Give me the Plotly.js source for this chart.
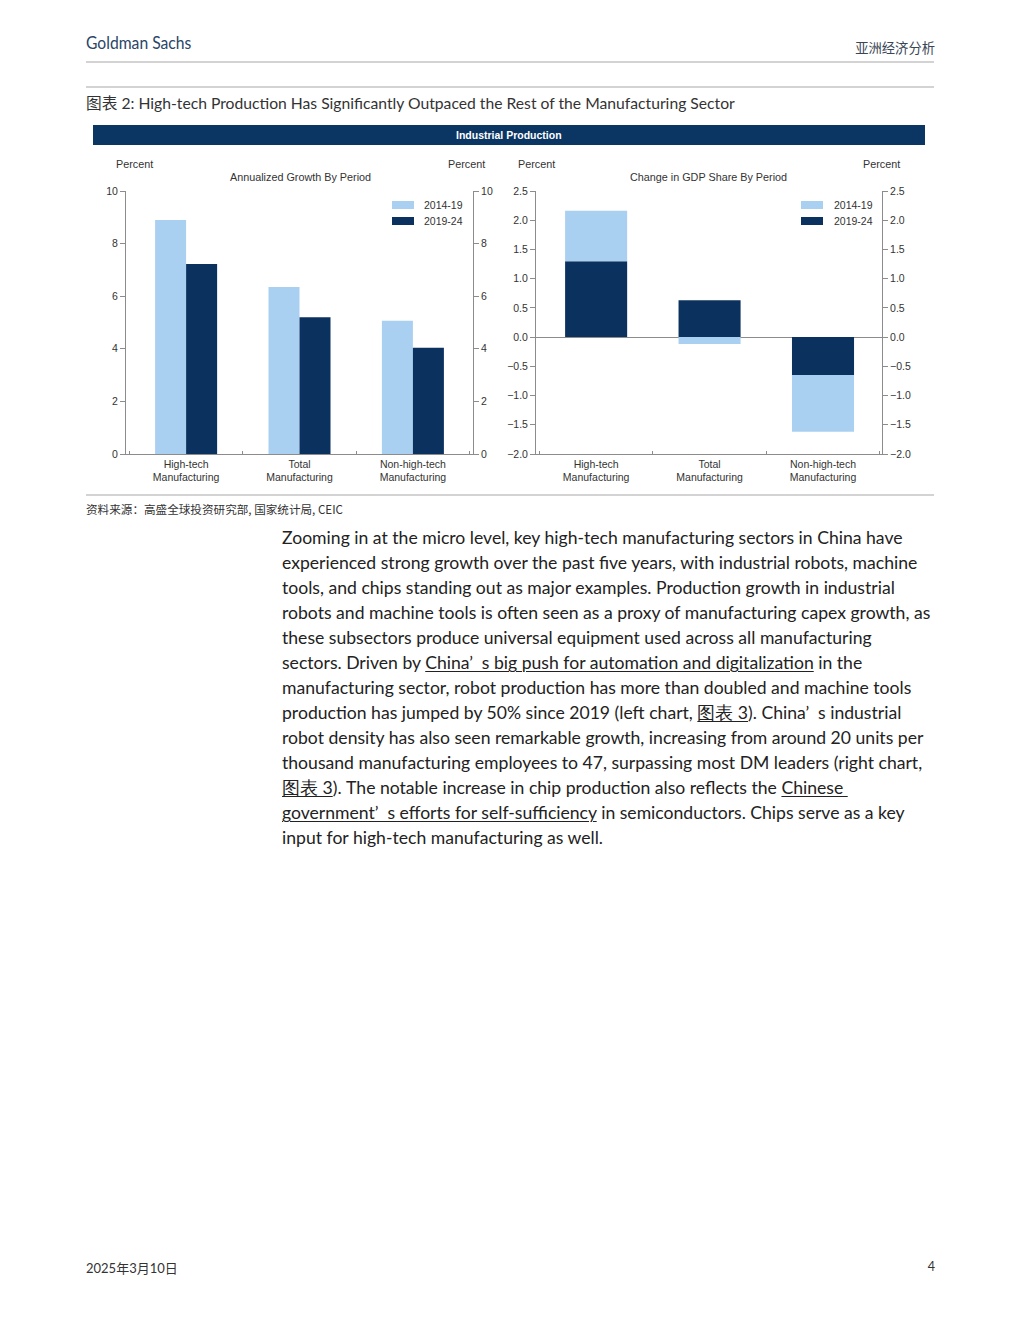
<!DOCTYPE html>
<html>
<head>
<meta charset="utf-8">
<script src="https://cdn.plot.ly/plotly-3.0.1.min.js"></script>
<style>
  html, body { margin:0; padding:0; background:#fff; }
  #page { position:relative; width:1018px; height:1318px; overflow:hidden; }
  #chart { position:absolute; left:0; top:0; width:1018px; height:1318px; }
  .t { position:absolute; white-space:nowrap; z-index:5; }
  .para { font-family:'Lato','Noto Sans',sans-serif; font-size:17.6px; color:#222; line-height:25px; }
  .para u { text-decoration:underline; text-decoration-thickness:1px; text-underline-offset:2px; }
</style>
</head>
<body>
<div id="page">
  <div id="chart"></div>
  <div class="t" style="left:86px; top:33px; font-family:'Lato',sans-serif; font-size:16.5px; line-height:20px; color:#2a4566; transform:scaleX(0.95); transform-origin:left center;">Goldman Sachs</div>
  <div class="t" style="right:83px; top:39px; font-family:'Noto Sans CJK SC',sans-serif; font-size:13.3px; line-height:18px; color:#3a4656;">亚洲经济分析</div>
  <div class="t" style="left:86px; top:93px; font-family:'Lato','Noto Sans CJK SC',sans-serif; font-size:15.7px; line-height:20px; color:#333;">图表 2: High-tech Production Has Significantly Outpaced the Rest of the Manufacturing Sector</div>
  <div class="t" style="left:86px; top:502px; font-family:'Noto Sans CJK SC',sans-serif; font-size:11.6px; line-height:14px; color:#333;">资料来源：高盛全球投资研究部, 国家统计局, CEIC</div>
  <div class="t para" style="left:282px; top:525px;">
    <div>Zooming in at the micro level, key high-tech manufacturing sectors in China have</div>
    <div>experienced strong growth over the past five years, with industrial robots, machine</div>
    <div>tools, and chips standing out as major examples. Production growth in industrial</div>
    <div>robots and machine tools is often seen as a proxy of manufacturing capex growth, as</div>
    <div>these subsectors produce universal equipment used across all manufacturing</div>
    <div>sectors. Driven by <u>China’&ensp;s big push for automation and digitalization</u> in the</div>
    <div>manufacturing sector, robot production has more than doubled and machine tools</div>
    <div>production has jumped by 50% since 2019 (left chart, <u>图表 3</u>). China’&ensp;s industrial</div>
    <div>robot density has also seen remarkable growth, increasing from around 20 units per</div>
    <div>thousand manufacturing employees to 47, surpassing most DM leaders (right chart,</div>
    <div><u>图表 3</u>). The notable increase in chip production also reflects the <u>Chinese&nbsp;</u></div>
    <div><u>government’&ensp;s efforts for self-sufficiency</u> in semiconductors. Chips serve as a key</div>
    <div>input for high-tech manufacturing as well.</div>
  </div>
  <div class="t" style="left:86px; top:1260px; font-family:'Lato','Noto Sans CJK SC',sans-serif; font-size:13px; line-height:16px; color:#333;">2025年3月10日</div>
  <div class="t" style="right:83px; top:1259px; font-family:'Lato',sans-serif; font-size:12.5px; line-height:16px; color:#333;">4</div>
</div>
<script>
// ---- data ----
const categories = ['High-tech<br>Manufacturing', 'Total<br>Manufacturing', 'Non-high-tech<br>Manufacturing'];
const periods = ['2014-19', '2019-24'];
const growth_2014_19 = [8.9, 6.35, 5.07];
const growth_2019_24 = [7.22, 5.2, 4.04];
const gdpShare_2014_19 = [0.86, -0.12, -0.97];
const gdpShare_2019_24 = [1.30, 0.63, -0.65];
const growthTicks = [0, 2, 4, 6, 8, 10];
const shareTicks = [-2.0, -1.5, -1.0, -0.5, 0.0, 0.5, 1.0, 1.5, 2.0, 2.5];
const chartTitle = 'Industrial Production';
const leftSubtitle = 'Annualized Growth By Period';
const rightSubtitle = 'Change in GDP Share By Period';
const unitLabel = 'Percent';

// ---- styling ----
const W = 1018, H = 1318;
const fx = x => x / W, fy = y => 1 - y / H;
const LIGHT = '#a9d0f1', DARK = '#0b325e', NAVY = '#0b3563', AX = '#8c8c8c';
const FONT = 'Liberation Sans, Arial, sans-serif';
const colors = [LIGHT, DARK];

const traces = [
  {type:'bar', x:categories, y:growth_2014_19, name:periods[0], marker:{color:LIGHT}, xaxis:'x', yaxis:'y', offsetgroup:'a', showlegend:false, hoverinfo:'skip'},
  {type:'bar', x:categories, y:growth_2019_24, name:periods[1], marker:{color:DARK}, xaxis:'x', yaxis:'y', offsetgroup:'b', showlegend:false, hoverinfo:'skip'},
  {type:'bar', x:categories, y:gdpShare_2019_24, name:periods[1], marker:{color:DARK}, xaxis:'x2', yaxis:'y3', offsetgroup:'c', showlegend:false, hoverinfo:'skip'},
  {type:'bar', x:categories, y:gdpShare_2014_19, name:periods[0], marker:{color:LIGHT}, xaxis:'x2', yaxis:'y3', offsetgroup:'c', showlegend:false, hoverinfo:'skip'}
];

const tickFont = {family:FONT, size:10.5, color:'#333'};
const yDom = [fy(454), fy(191)];
function yAx(range, ticks, fmt, side, overlay, anchor, extra) {
  const o = {domain:yDom, range:range, tickvals:ticks, tickformat:fmt, side:side, anchor:anchor,
    showline:true, linecolor:AX, linewidth:1, ticks:'outside', ticklen:5, tickcolor:AX,
    showgrid:false, zeroline:false, tickfont:tickFont, fixedrange:true};
  if (overlay) o.overlaying = overlay;
  return Object.assign(o, extra || {});
}
function xAx(domain, anchor, range) {
  return {domain:domain, anchor:anchor, type:'category', range:range, showline:true, linecolor:AX, linewidth:1,
    ticks:'inside', ticklen:3, tickcolor:AX, tickson:'boundaries', showgrid:false, zeroline:false,
    tickfont:{family:FONT, size:10.5, color:'#333'}, fixedrange:true};
}

const annotations = [
  {text:'<b>' + chartTitle + '</b>', x:fx(509), y:fy(135), xref:'paper', yref:'paper', showarrow:false, font:{family:FONT, size:10.5, color:'#fff'}, xanchor:'center', yanchor:'middle'},
  {text:unitLabel, x:fx(114), y:fy(164), xanchor:'left'},
  {text:unitLabel, x:fx(487), y:fy(164), xanchor:'right'},
  {text:unitLabel, x:fx(516), y:fy(164), xanchor:'left'},
  {text:unitLabel, x:fx(902), y:fy(164), xanchor:'right'},
  {text:leftSubtitle, x:fx(300), y:fy(177), xanchor:'center'},
  {text:rightSubtitle, x:fx(708), y:fy(177), xanchor:'center'}
].map(a => Object.assign({xref:'paper', yref:'paper', showarrow:false, yanchor:'middle', font:{family:FONT, size:10.8, color:'#333'}}, a));

const shapes = [
  {type:'rect', x0:fx(93), x1:fx(925), y0:fy(145), y1:fy(125), fillcolor:NAVY, line:{width:0}},
  {type:'line', x0:fx(86), x1:fx(934), y0:fy(62), y1:fy(62), line:{color:'#c4c4c4', width:1.5}},
  {type:'line', x0:fx(86), x1:fx(934), y0:fy(87), y1:fy(87), line:{color:'#c4c4c4', width:1.5}},
  {type:'line', x0:fx(86), x1:fx(934), y0:fy(495), y1:fy(495), line:{color:'#c4c4c4', width:1.5}}
].map(s => Object.assign({xref:'paper', yref:'paper', layer:'below'}, s));

// custom legends (one per panel)
[[392, 422], [801, 832]].forEach(([sx, tx]) => {
  periods.forEach((p, i) => {
    const cy = 205 + i * 16;
    shapes.push({type:'rect', xref:'paper', yref:'paper', x0:fx(sx), x1:fx(sx + 22), y0:fy(cy + 4), y1:fy(cy - 4), fillcolor:colors[i], line:{width:0}});
    annotations.push({text:p, xref:'paper', yref:'paper', x:fx(tx), y:fy(cy), xanchor:'left', yanchor:'middle', showarrow:false, font:{family:FONT, size:10.5, color:'#333'}});
  });
});

const layout = {
  width:W, height:H, margin:{l:0, r:0, t:0, b:0}, paper_bgcolor:'#fff', plot_bgcolor:'rgba(0,0,0,0)',
  barmode:'relative', bargap:0.453, bargroupgap:0, showlegend:false,
  xaxis: xAx([fx(126), fx(473)], 'y', [-0.53, 2.53]),
  yaxis: yAx([0, 10], growthTicks, 'd', 'left', null, 'x'),
  yaxis2: yAx([0, 10], growthTicks, 'd', 'right', 'y', 'x'),
  xaxis2: xAx([fx(536), fx(882)], 'y3', [-0.53, 2.52]),
  yaxis3: yAx([-2, 2.5], shareTicks, '.1f', 'left', null, 'x2', {zeroline:true, zerolinecolor:AX, zerolinewidth:1}),
  yaxis4: yAx([-2, 2.5], shareTicks, '.1f', 'right', 'y3', 'x2'),
  annotations: annotations, shapes: shapes
};
// give the overlay axes something to plot against (no visible marks)
traces.push({type:'scatter', x:[categories[0]], y:[null], xaxis:'x', yaxis:'y2', showlegend:false, hoverinfo:'skip'});
traces.push({type:'scatter', x:[categories[0]], y:[null], xaxis:'x2', yaxis:'y4', showlegend:false, hoverinfo:'skip'});

Plotly.newPlot('chart', traces, layout, {staticPlot:true, displayModeBar:false});
</script>
</body>
</html>
